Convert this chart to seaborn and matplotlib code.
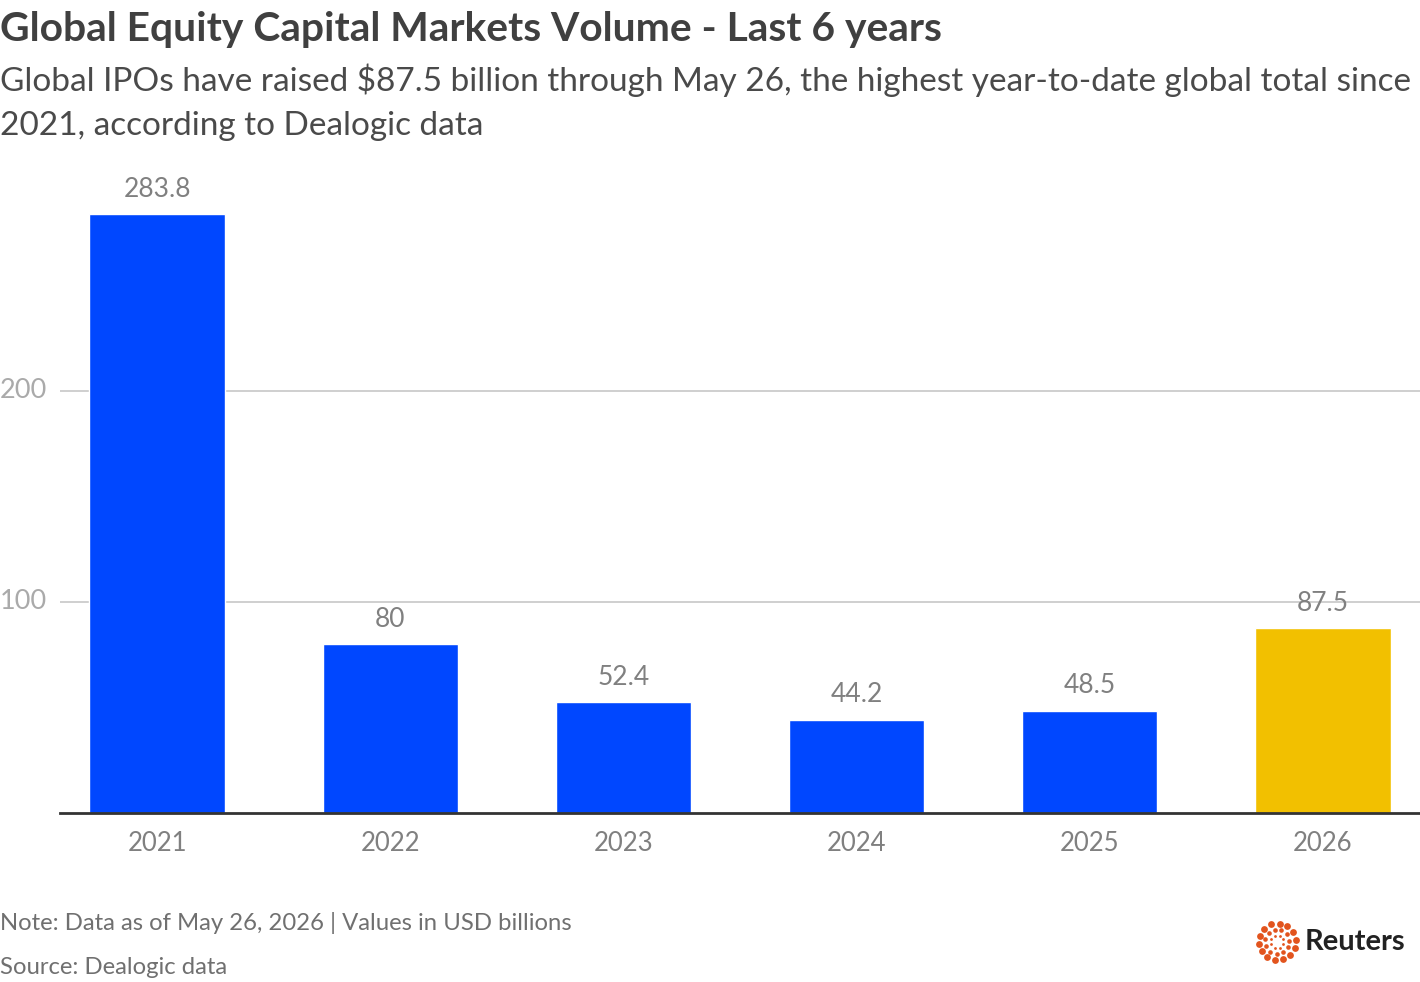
import numpy as np
import pandas as pd
import matplotlib
matplotlib.use("Agg")
import matplotlib.pyplot as plt
import matplotlib.transforms as mtransforms
import seaborn as sns

# chart values (USD billions)
years = ["2021", "2022", "2023", "2024", "2025", "2026"]
volume = [283.8, 80, 52.4, 44.2, 48.5, 87.5]
value_labels = ["283.8", "80", "52.4", "44.2", "48.5", "87.5"]
y_ticks = [100, 200]

title = "Global Equity Capital Markets Volume - Last 6 years"
subtitle_1 = "Global IPOs have raised $87.5 billion through May 26, the highest year-to-date global total since"
subtitle_2 = "2021, according to Dealogic data"
note = "Note: Data as of May 26, 2026 | Values in USD billions"
source = "Source: Dealogic data"

blue = "#0047ff"
yellow = "#f2c000"

sns.set_theme(style="white")
plt.rcParams["font.family"] = ["Lato", "DejaVu Sans"]

df = pd.DataFrame({"year": years, "volume": volume})

fig = plt.figure(figsize=(14.2, 9.82), dpi=100)
ax = fig.add_axes([0.0423, 0.1721, 0.9577, 0.6446])

palette = [blue] * (len(years) - 1) + [yellow]
sns.barplot(data=df, x="year", y="volume", hue="year", palette=palette,
            legend=False, width=0.58, saturation=1, ax=ax, zorder=3)

ax.set_xlim(-0.416, len(years) - 1 + 0.416)
ax.set_ylim(0, 300)
ax.set_yticks(y_ticks)
ax.set_yticklabels([str(t) for t in y_ticks])
ax.grid(axis="y", color="#cccccc", linewidth=1.3, zorder=0)
ax.grid(axis="x", visible=False)

for s in ["top", "right", "left"]:
    ax.spines[s].set_visible(False)
ax.spines["bottom"].set_color("#333333")
ax.spines["bottom"].set_linewidth(2)
ax.spines["bottom"].set_zorder(4)

ax.set_xlabel("")
ax.set_ylabel("")
ax.tick_params(axis="x", length=0, pad=13, labelsize=18.5, labelcolor="#808080")
ax.tick_params(axis="y", length=0, pad=0, labelsize=19.5, labelcolor="#aaaaaa")
# y labels sit at the left edge of the figure, level with their gridline
offset = mtransforms.ScaledTranslation(-0.6, 0, fig.dpi_scale_trans)
for lbl in ax.get_yticklabels():
    lbl.set_horizontalalignment("left")
    lbl.set_verticalalignment("center")
    lbl.set_transform(lbl.get_transform() + offset)

for i, (v, t) in enumerate(zip(volume, value_labels)):
    ax.annotate(t, (i, v), xytext=(0, 9), textcoords="offset points",
                ha="center", va="bottom", fontsize=19, color="#808080")

fig.text(0.0, 1 - 30 / 982, title, fontsize=29.3, fontweight="bold", color="#404040",
         ha="left", va="center")
fig.text(0.0, 1 - 80 / 982, subtitle_1, fontsize=24, color="#4a4a4a", ha="left", va="center")
fig.text(0.0, 1 - 126 / 982, subtitle_2, fontsize=24, color="#4a4a4a", ha="left", va="center")
fig.text(0.0, 1 - 923 / 982, note, fontsize=17.2, color="#707070", ha="left", va="center")
fig.text(0.0, 1 - 967 / 982, source, fontsize=17.2, color="#707070", ha="left", va="center")

# Reuters logo
lax = fig.add_axes([0.884, 0.0185, 0.031, 0.045])
lax.set_aspect("equal")
lax.axis("off")
for r, n, s in [(1.0, 14, 24), (0.66, 11, 11), (0.36, 8, 4)]:
    ang = np.linspace(0, 2 * np.pi, n, endpoint=False) + r
    lax.scatter(r * np.cos(ang), r * np.sin(ang), s=s, color="#e2541e", linewidths=0)
lax.set_xlim(-1.2, 1.2)
lax.set_ylim(-1.2, 1.2)
fig.text(0.919, 1 - 942 / 982, "Reuters", fontsize=21, fontweight="bold", color="#222222",
         ha="left", va="center")

fig.savefig("out.png", dpi=100)
